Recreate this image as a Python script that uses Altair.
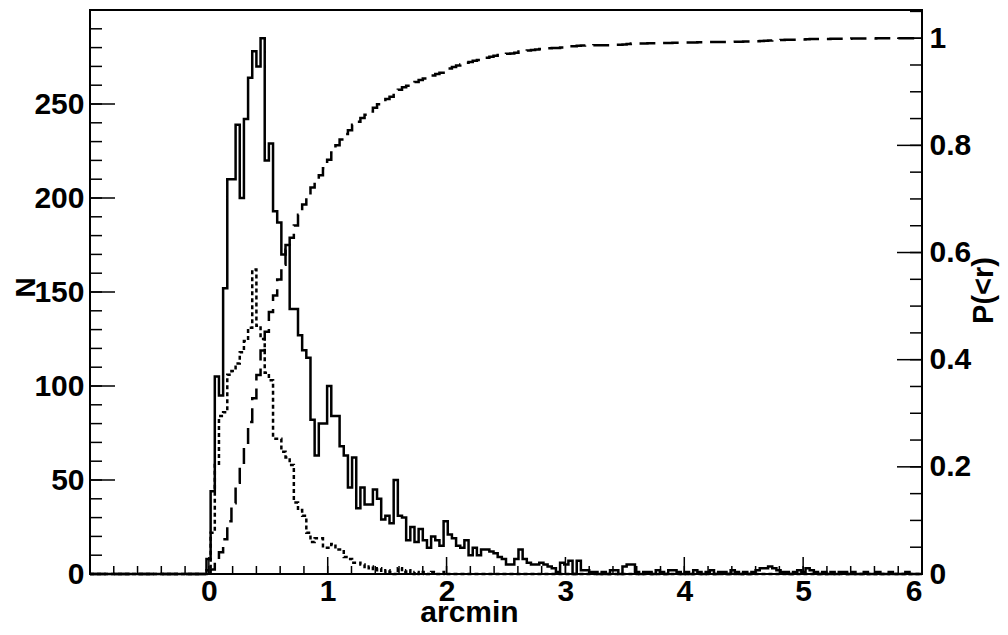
import altair as alt
import pandas as pd

# ---------------- data ----------------
x_start = -1.0          # arcmin
x_end = 6.0
n_bins = 200
first_bin = 28          # index of first listed bin

# solid histogram counts, bins 28..199
solid_counts = [
    8, 44, 105, 95, 152, 210, 210, 239, 200, 242,
    264, 278, 270, 285, 220, 229, 193, 187, 170, 175,
    141, 141, 127, 119, 115, 82, 63, 80, 80, 100,
    84, 84, 68, 63, 46, 62, 35, 46, 37, 37,
    45, 40, 29, 31, 27, 50, 31, 30, 18, 25,
    17, 24, 18, 14, 20, 18, 15, 28, 21, 19,
    15, 14, 18, 10, 14, 10, 13, 13, 12, 11,
    9, 8, 5, 5, 8, 13, 8, 6, 5, 5,
    6, 5, 4, 3, 1, 6, 5, 7, 0, 7,
    2, 2, 1, 1, 0, 1, 0, 2, 2, 0,
    4, 5, 5, 1, 0, 1, 1, 0, 2, 1,
    0, 2, 2, 1, 0, 1, 0, 2, 1, 0,
    1, 2, 0, 1, 1, 0, 2, 1, 0, 1,
    0, 1, 2, 3, 3, 4, 3, 2, 1, 1,
    0, 1, 2, 1, 3, 2, 1, 0, 1, 0,
    1, 0, 1, 1, 0, 1, 0, 0, 1, 0,
    0, 1, 0, 0, 1, 0, 0, 0, 1, 0,
    0, 0,
]

# dotted histogram counts, bins 28..85 (zero afterwards)
dotted_counts = [
    2, 22, 58, 84, 86, 106, 108, 112, 118, 124,
    131, 162, 132, 125, 107, 103, 72, 72, 65, 62,
    58, 38, 34, 31, 22, 17, 19, 19, 14, 14,
    16, 13, 13, 9, 8, 6, 6, 5, 3, 4,
    2, 3, 1, 2, 1, 0, 3, 1, 2, 0,
    1, 0, 1, 0, 1, 0, 0, 1,
]

x_labels = [0, 1, 2, 3, 4, 5, 6]
x_minor = [round(-1 + 0.2 * i, 1) for i in range(36)]
n_labels = [0, 50, 100, 150, 200, 250]
n_minor = list(range(0, 300, 10))
p_labels = [0, 0.2, 0.4, 0.6, 0.8, 1]
p_minor = [round(0.05 * i, 2) for i in range(22)]

n_max = 300

# ---------------- table ----------------
rows = []
for k in range(n_bins + 1):
    x = x_start + (x_end - x_start) * k / n_bins
    if k < n_bins:
        i = k - first_bin
        s = solid_counts[i] if 0 <= i < len(solid_counts) else 0
        d = dotted_counts[i] if 0 <= i < len(dotted_counts) else 0
        w = s
    else:
        s = rows[-1]["solid"]
        d = rows[-1]["dotted"]
        w = 0
    rows.append({"x": x, "solid": s, "dotted": d, "w": w})
df = pd.DataFrame(rows)

W, H = 832, 564
FONT = "Liberation Sans"
FS = 30

xscale = alt.Scale(domain=[x_start, x_end], nice=False, zero=False)
yN = alt.Scale(domain=[0, n_max], nice=False, zero=True)
yP = alt.Scale(domain=[0, n_max / max(solid_counts)], nice=False, zero=True)

common = dict(
    ticks=False, domain=False, grid=False,
    labelFont=FONT, labelFontWeight="bold", labelFontSize=FS, labelColor="black",
    titleFont=FONT, titleFontWeight="bold", titleColor="black",
)

x_axis = alt.Axis(
    title="arcmin", values=x_labels, format="d", labelPadding=2,
    titleFontSize=30,
    titleX=379, titleY=47, titleAlign="center", titleBaseline="alphabetic",
    **common,
)
left_axis = alt.Axis(
    title="N", values=n_labels, format="d", labelPadding=6,
    titleFontSize=28,
    titleAngle=270, titleX=-56, titleY=277, titleAlign="center",
    titleBaseline="alphabetic",
    **common,
)
right_axis = alt.Axis(
    orient="right", title="P(<r)", values=p_labels, format="~g", labelPadding=7,
    titleFontSize=29,
    titleAngle=270, titleX=70, titleY=280, titleAlign="center",
    titleBaseline="alphabetic",
    **common,
)

base = alt.Chart(df)

solid = base.mark_line(interpolate="step-after", color="black", strokeWidth=2.5).encode(
    x=alt.X("x:Q", scale=xscale, axis=x_axis),
    y=alt.Y("solid:Q", scale=yN, axis=left_axis),
)
dotted = base.mark_line(
    interpolate="step-after", color="black", strokeWidth=2.5, strokeDash=[4, 3]
).encode(
    x=alt.X("x:Q", scale=xscale, axis=x_axis),
    y=alt.Y("dotted:Q", scale=yN, axis=None),
)

cum = base.transform_window(
    cum="sum(w)", sort=[alt.SortField("x")], frame=[None, 0]
).transform_joinaggregate(
    total="sum(w)"
).transform_calculate(
    P="datum.cum / datum.total"
).mark_line(
    interpolate="step-after", color="black", strokeWidth=2.5, strokeDash=[16, 8]
).encode(
    x=alt.X("x:Q", scale=xscale, axis=x_axis),
    y=alt.Y("P:Q", scale=yP, axis=right_axis),
)


def xticks(vals, length):
    return alt.Chart(pd.DataFrame({"x": vals})).mark_rule(
        color="black", strokeWidth=1.5
    ).encode(
        x=alt.X("x:Q", scale=xscale, axis=x_axis),
        y=alt.value(H), y2=alt.value(H - length),
    )


def lticks(vals, length):
    return alt.Chart(pd.DataFrame({"t": vals})).mark_rule(
        color="black", strokeWidth=1.5
    ).encode(
        y=alt.Y("t:Q", scale=yN, axis=None),
        x=alt.value(0), x2=alt.value(length),
    )


def rticks(vals, length):
    return alt.Chart(pd.DataFrame({"t": vals})).mark_rule(
        color="black", strokeWidth=1.5
    ).encode(
        y=alt.Y("t:Q", scale=yP, axis=None),
        x=alt.value(W), x2=alt.value(W - length),
    )


chart = alt.layer(
    solid, cum, dotted,
    xticks(x_minor, 8), xticks(x_labels, 17),
    lticks(n_minor, 12), lticks(n_labels, 25),
    rticks(p_minor, 12), rticks(p_labels, 25),
).resolve_scale(y="independent").properties(
    width=W, height=H,
    background="white",
    autosize=alt.AutoSizeParams(type="none"),
    padding={"left": 82, "top": 2, "right": 78, "bottom": 53},
).configure_view(stroke="black", strokeWidth=2)

chart.save("out.html", embed_options={"renderer": "svg", "actions": False})
